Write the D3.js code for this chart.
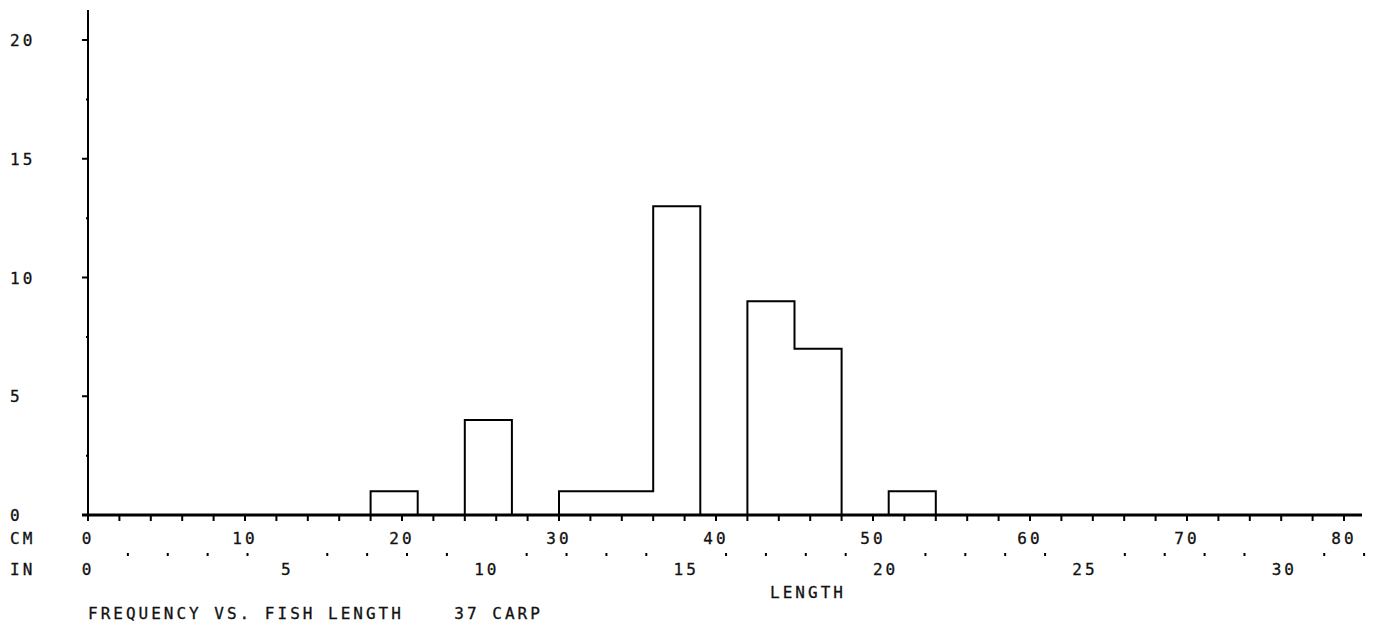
<!DOCTYPE html>
<html><head><meta charset="utf-8">
<script src="https://cdn.jsdelivr.net/npm/d3@7"></script>
<style>body{margin:0;background:#fff}text{font-family:"DejaVu Sans Mono",monospace;font-size:16px;letter-spacing:3px;fill:#111;stroke:#111;stroke-width:0.3px}</style>
</head><body><svg></svg>
<script>
var binStart = [18, 24, 30, 33, 36, 42, 45, 51];
var binWidth = 3;
var counts = [1, 4, 1, 1, 13, 9, 7, 1];
var yTicks = [0, 5, 10, 15, 20];
var cmTicks = [0, 10, 20, 30, 40, 50, 60, 70, 80];
var inTicks = [0, 5, 10, 15, 20, 25, 30];

var svg = d3.select('svg').attr('width', 1385).attr('height', 633);
var x = d3.scaleLinear().domain([0, 80]).range([88, 1344]);
var y = d3.scaleLinear().domain([0, 20]).range([515, 40]);

// y axis
svg.append('line').attr('x1', 88).attr('x2', 88).attr('y1', 10).attr('y2', 515)
    .attr('stroke', '#000').attr('stroke-width', 2);
d3.range(0, 21, 2.5).forEach(function (v) {
    var major = v % 5 === 0;
    svg.append('line').attr('x1', major ? 82 : 86).attr('x2', 88)
        .attr('y1', y(v)).attr('y2', y(v)).attr('stroke', '#000').attr('stroke-width', 2);
});
yTicks.forEach(function (v) {
    svg.append('text').attr('x', 10).attr('y', y(v) + 6).text(v);
});

// histogram as a step outline; adjacent bins share edges
var pts = [];
binStart.forEach(function (s, i) {
    var prevEnd = i > 0 ? binStart[i - 1] + binWidth : null;
    if (prevEnd !== s) {
        if (pts.length) { svg.append('path').attr('d', d3.line()(pts)).attr('class', 'h'); }
        pts = [[x(s), y(0)]];
    }
    pts.push([x(s), y(counts[i])], [x(s + binWidth), y(counts[i])]);
    var next = binStart[i + 1];
    if (next !== s + binWidth) pts.push([x(s + binWidth), y(0)]);
});
svg.append('path').attr('d', d3.line()(pts)).attr('class', 'h');
svg.selectAll('path.h').attr('fill', 'none').attr('stroke', '#000').attr('stroke-width', 2);

// x axis
svg.append('line').attr('x1', 82).attr('x2', 1362).attr('y1', 515).attr('y2', 515)
    .attr('stroke', '#000').attr('stroke-width', 3);
d3.range(0, 82, 2).forEach(function (v) {
    svg.append('line').attr('x1', x(v)).attr('x2', x(v)).attr('y1', 515).attr('y2', 521)
        .attr('stroke', '#000').attr('stroke-width', 2);
});
svg.append('text').attr('x', 10).attr('y', 544).text('CM');
cmTicks.forEach(function (v) {
    svg.append('text').attr('x', x(v)).attr('y', 544).attr('text-anchor', 'middle').text(v);
});
d3.range(0, 33, 1).forEach(function (v) {
    if (v % 5 === 0) return;
    svg.append('rect').attr('x', x(v * 2.54) - 1).attr('y', 553).attr('width', 2).attr('height', 3).attr('fill', '#000');
});
svg.append('text').attr('x', 10).attr('y', 575).text('IN');
inTicks.forEach(function (v) {
    svg.append('text').attr('x', x(v * 2.54)).attr('y', 575).attr('text-anchor', 'middle').text(v);
});
svg.append('text').attr('x', 808).attr('y', 598).attr('text-anchor', 'middle').text('LENGTH');
svg.append('text').attr('x', 88).attr('y', 619).attr('xml:space', 'preserve')
    .text('FREQUENCY VS. FISH LENGTH    37 CARP');
</script></body></html>
